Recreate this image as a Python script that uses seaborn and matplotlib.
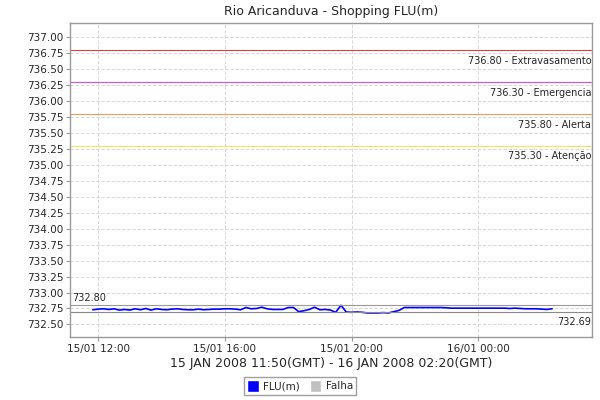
import numpy as np
import pandas as pd
import seaborn as sns
import matplotlib.pyplot as plt
import matplotlib.dates as mdates
from matplotlib.patches import Patch

# leituras a cada 10 minutos, 15/01 11:50 -> 16/01 02:20
nivel = [732.73, 732.74, 732.745, 732.735, 732.745, 732.725, 732.735, 732.725,
         732.745, 732.73, 732.75, 732.725, 732.745, 732.735,
         732.73, 732.74, 732.745, 732.735, 732.73, 732.73, 732.74, 732.73,
         732.735, 732.74, 732.74, 732.745, 732.745, 732.74, 732.73,
         732.765, 732.745, 732.75, 732.77, 732.745, 732.735, 732.735, 732.735,
         732.765, 732.765, 732.70, 732.715, 732.735, 732.77, 732.73, 732.735,
         732.725, 732.69, 732.80, 732.695, 732.69, 732.695, 732.69, 732.68,
         732.68, 732.68, 732.685, 732.68, 732.70, 732.72, 732.765,
         732.765, 732.765, 732.765, 732.765, 732.765, 732.765, 732.765,
         732.76, 732.755, 732.755, 732.755, 732.755, 732.755, 732.755,
         732.755, 732.755, 732.755, 732.755, 732.755,
         732.75, 732.755, 732.75, 732.745, 732.745, 732.745, 732.74, 732.735,
         732.745]
horas = pd.date_range("2008-01-15 11:50", periods=len(nivel), freq="10min")

cotas = [736.80, 736.30, 735.80, 735.30]
cotas_nome = ["Extravasamento", "Emergencia", "Alerta", "Atenção"]
cotas_cor = ["#e04040", "#d050e0", "#f0a050", "#f8e060"]
ref_max = 732.80
ref_min = 732.69

sns.set_style("whitegrid")
plt.rcParams['font.family'] = ['DejaVu Sans']

fig = plt.figure(figsize=(6, 4), dpi=100)
ax = fig.add_axes([0.117, 0.157, 0.87, 0.785])

df = pd.DataFrame({"hora": horas, "nivel": nivel})
sns.lineplot(data=df, x="hora", y="nivel", color="#0000ff", lw=1.2, ax=ax)

x0 = pd.Timestamp("2008-01-15 11:07")
x1 = pd.Timestamp("2008-01-16 03:36")
ax.set_xlim(x0, x1)
ax.set_ylim(732.30, 737.22)

for v, nome, cor in zip(cotas, cotas_nome, cotas_cor):
    ax.axhline(v, color=cor, lw=0.8)
    ax.text(0.998, v - 0.09, f"{v:.2f} - {nome}", transform=ax.get_yaxis_transform(),
            ha="right", va="top", fontsize=7)

ax.axhline(ref_max, color="#999999", lw=0.8)
ax.axhline(ref_min, color="#888888", lw=0.8)
ax.text(0.003, ref_max + 0.04, f"{ref_max:.2f}", transform=ax.get_yaxis_transform(),
        ha="left", va="bottom", fontsize=7)
ax.text(0.998, ref_min - 0.08, f"{ref_min:.2f}", transform=ax.get_yaxis_transform(),
        ha="right", va="top", fontsize=7)

ax.set_yticks(np.arange(732.5, 737.01, 0.25))
ax.yaxis.set_major_formatter(plt.FormatStrFormatter("%.2f"))
ax.xaxis.set_major_locator(mdates.HourLocator(byhour=[0, 4, 8, 12, 16, 20]))
ax.xaxis.set_major_formatter(mdates.DateFormatter("%d/%m %H:%M"))
ax.tick_params(labelsize=7.5, length=3, color="#999999", pad=2, left=True, bottom=True)

ax.grid(True, color="#d8d8d8", ls="--", lw=0.7)
for s in ax.spines.values():
    s.set_color("#999999")
    s.set_linewidth(1)

ax.set_title("Rio Aricanduva - Shopping FLU(m)", fontsize=9, pad=6)
ax.set_xlabel("15 JAN 2008 11:50(GMT) - 16 JAN 2008 02:20(GMT)", fontsize=9, labelpad=2)
ax.set_ylabel("")

hs = [Patch(facecolor="#0000ff"), Patch(facecolor="#c0c0c0")]
fig.legend(hs, ["FLU(m)", "Falha"], loc="lower center", bbox_to_anchor=(0.5, 0.0),
           ncol=2, fontsize=7.5, frameon=True, fancybox=False, edgecolor="#888888",
           handlelength=1.1, handleheight=1.3, handletextpad=0.4, columnspacing=1.0,
           borderpad=0.3)

fig.savefig("out.png", dpi=100)
